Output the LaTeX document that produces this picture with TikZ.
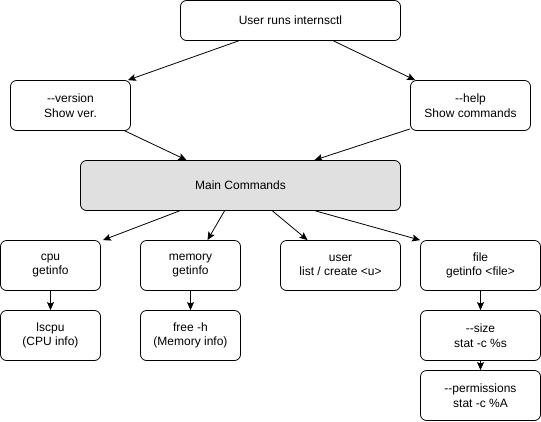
\documentclass[tikz,border=0pt]{standalone}
\usepackage{fontspec}
\setmainfont{Liberation Sans}
\usetikzlibrary{arrows.meta}
\begin{document}
\begin{tikzpicture}[x=1pt,y=-1pt,
  box/.style={draw=black, line width=0.8pt, rounded corners=6pt, fill=white, align=center,
    inner sep=0pt, font=\fontsize{12}{14.5}\selectfont},
  w100/.style={minimum width=100pt, minimum height=50pt},
  w120/.style={minimum width=120pt, minimum height=50pt},
  arr/.style={-{Stealth[length=8pt,width=7pt,inset=1.5pt]}, line width=0.8pt}
]
\useasboundingbox (-0.5,-0.5) rectangle (540.5,420.5);
\node[box, minimum width=220pt, minimum height=40pt] (top) at (290,20) {User runs internsctl};
\node[box, w120] (version) at (70,105) {-{}-version\\Show ver.};
\node[box, w120] (help) at (470,105) {-{}-help\\Show commands};
\node[box, minimum width=320pt, minimum height=50pt, fill={rgb,255:red,224;green,224;blue,224}] (main) at (240,185) {Main Commands};
\node[box, w100] (cpu) at (50,265) {cpu\\getinfo};
\node[box, w100] (memory) at (190,265) {memory\\getinfo};
\node[box, w120] (user) at (340,265) {user\\list / create <u>};
\node[box, w120] (file) at (480,265) {file\\getinfo <file>};
\node[box, w100] (lscpu) at (50,335) {lscpu\\(CPU info)};
\node[box, w100] (free) at (190,335) {free -h\\(Memory info)};
\node[box, w120] (size) at (480,335) {-{}-size\\stat -c \%s};
\node[box, w120] (perm) at (480,395) {-{}-permissions\\stat -c \%A};

\draw[arr] ([xshift=-52pt]top.south) -- ([xshift=-3pt]version.north east);
\draw[arr] ([xshift=43pt]top.south) -- ([xshift=5pt]help.north west);
\draw[arr] ([xshift=-6pt]version.south east) -- ([xshift=-54pt]main.north);
\draw[arr] ([yshift=2pt]help.south west) -- ([xshift=74pt]main.north);
\draw[arr] ([xshift=-61pt]main.south) -- ([xshift=2pt]cpu.north east);
\draw[arr] ([xshift=-16pt]main.south) -- ([xshift=17pt]memory.north);
\draw[arr] ([xshift=32pt]main.south) -- ([xshift=-33pt]user.north);
\draw[arr] ([xshift=75pt]main.south) -- (file.north west);
\draw[arr] (cpu) -- (lscpu);
\draw[arr] (memory) -- (free);
\draw[arr] (file) -- (size);
\draw[arr] (size) -- (perm);
\end{tikzpicture}
\end{document}
